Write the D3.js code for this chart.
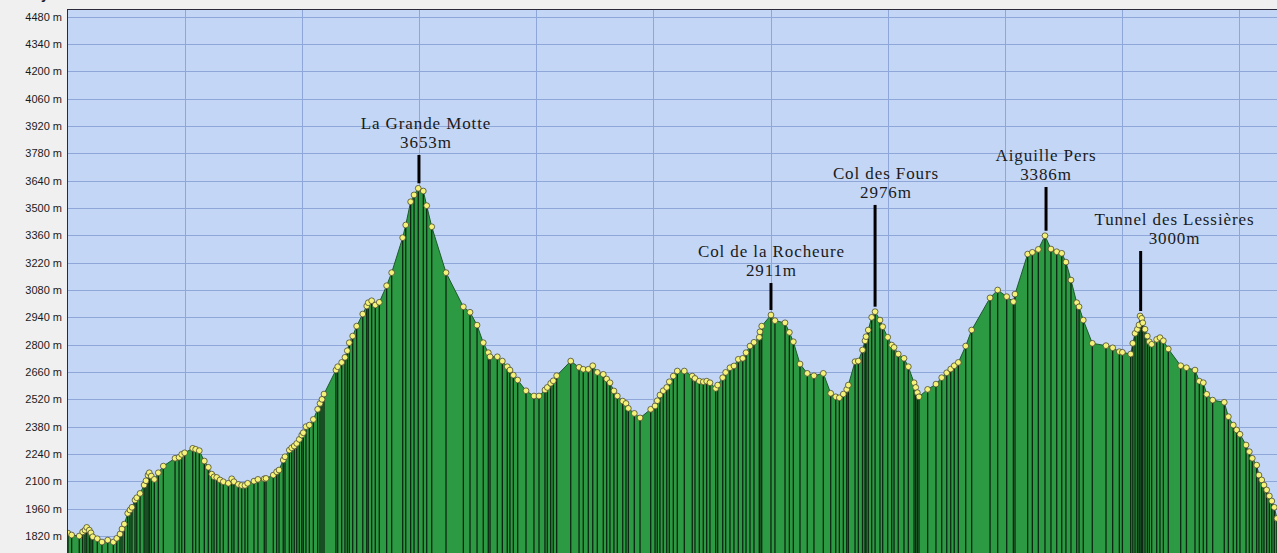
<!DOCTYPE html>
<html>
<head>
<meta charset="utf-8">
<script src="https://cdn.jsdelivr.net/npm/d3@7"></script>
<style>
  html, body { margin: 0; padding: 0; background: #f0f0f0; }
  svg { display: block; }
</style>
</head>
<body>
<div id="chart"></div>
<script>
// distance along the route (km, grid every 1 km) and elevation (m) of each sample
var distKm = [
  0.000, 0.032, 0.097, 0.126, 0.146, 0.161, 0.183, 0.197, 0.212, 0.251,
  0.291, 0.340, 0.388, 0.417, 0.445, 0.462, 0.482, 0.511, 0.530, 0.547,
  0.573, 0.588, 0.616, 0.651, 0.667, 0.684, 0.695, 0.712, 0.738, 0.772,
  0.815, 0.915, 0.949, 0.972, 0.997, 1.066, 1.091, 1.122, 1.165, 1.199,
  1.228, 1.248, 1.271, 1.299, 1.327, 1.370, 1.399, 1.418, 1.455, 1.484,
  1.512, 1.535, 1.589, 1.623, 1.677, 1.692, 1.754, 1.783, 1.803, 1.839,
  1.854, 1.891, 1.911, 1.933, 1.954, 1.976, 1.997, 2.010, 2.033, 2.062,
  2.096, 2.133, 2.153, 2.170, 2.187, 2.289, 2.304, 2.338, 2.366, 2.386,
  2.403, 2.432, 2.466, 2.518, 2.552, 2.565, 2.594, 2.625, 2.659, 2.722,
  2.765, 2.859, 2.885, 2.927, 2.956, 2.992, 3.035, 3.064, 3.107, 3.229,
  3.377, 3.434, 3.494, 3.547, 3.590, 3.605, 3.667, 3.710, 3.752, 3.775,
  3.804, 3.841, 3.912, 3.980, 4.023, 4.074, 4.094, 4.123, 4.145, 4.174,
  4.294, 4.365, 4.401, 4.444, 4.482, 4.521, 4.572, 4.601, 4.629, 4.663,
  4.692, 4.738, 4.766, 4.786, 4.837, 4.886, 4.977, 5.014, 5.033, 5.056,
  5.084, 5.114, 5.136, 5.170, 5.204, 5.264, 5.332, 5.355, 5.392, 5.426,
  5.455, 5.483, 5.532, 5.549, 5.592, 5.617, 5.654, 5.688, 5.725, 5.763,
  5.791, 5.825, 5.859, 5.904, 5.910, 5.925, 6.004, 6.038, 6.124, 6.161,
  6.195, 6.252, 6.314, 6.371, 6.451, 6.514, 6.557, 6.588, 6.622, 6.651,
  6.665, 6.722, 6.750, 6.786, 6.807, 6.816, 6.835, 6.864, 6.893, 6.935,
  6.958, 7.001, 7.035, 7.055, 7.091, 7.140, 7.177, 7.226, 7.240, 7.254,
  7.268, 7.342, 7.413, 7.462, 7.505, 7.539, 7.569, 7.604, 7.667, 7.718,
  7.875, 7.940, 8.017, 8.074, 8.088, 8.196, 8.236, 8.287, 8.344, 8.395,
  8.444, 8.487, 8.523, 8.566, 8.615, 8.635, 8.671, 8.748, 8.865, 8.922,
  8.979, 9.005, 9.076, 9.094, 9.113, 9.133, 9.147, 9.156, 9.170, 9.179,
  9.198, 9.218, 9.235, 9.255, 9.298, 9.326, 9.355, 9.397, 9.503, 9.552,
  9.625, 9.662, 9.696, 9.725, 9.776, 9.875, 9.910, 9.952, 9.981, 10.009,
  10.061, 10.089, 10.114, 10.152, 10.171, 10.195, 10.214, 10.237, 10.260, 10.281,
  10.302, 10.325, 10.360
];
var elevM = [
  1835, 1825, 1820, 1841, 1850, 1864, 1850, 1836, 1816, 1806,
  1789, 1799, 1789, 1808, 1830, 1856, 1881, 1936, 1953, 1967,
  2004, 2016, 2038, 2081, 2103, 2132, 2144, 2127, 2110, 2144,
  2178, 2218, 2223, 2238, 2246, 2269, 2264, 2257, 2204, 2172,
  2137, 2123, 2120, 2107, 2098, 2090, 2113, 2098, 2084, 2079,
  2079, 2090, 2101, 2110, 2113, 2115, 2132, 2149, 2158, 2209,
  2226, 2260, 2272, 2281, 2294, 2315, 2337, 2349, 2380, 2388,
  2417, 2469, 2499, 2520, 2547, 2670, 2687, 2709, 2735, 2769,
  2810, 2844, 2895, 2957, 2998, 3015, 3025, 3003, 3017, 3102,
  3169, 3348, 3413, 3532, 3567, 3601, 3587, 3512, 3404, 3169,
  2994, 2966, 2900, 2810, 2759, 2738, 2738, 2716, 2687, 2670,
  2644, 2619, 2564, 2537, 2537, 2568, 2581, 2602, 2615, 2641,
  2716, 2684, 2674, 2674, 2692, 2658, 2648, 2624, 2605, 2563,
  2537, 2511, 2499, 2474, 2448, 2425, 2469, 2486, 2513, 2542,
  2564, 2581, 2610, 2639, 2665, 2665, 2639, 2627, 2613, 2610,
  2613, 2605, 2576, 2593, 2631, 2658, 2682, 2691, 2725, 2730,
  2759, 2793, 2812, 2838, 2866, 2895, 2952, 2923, 2912, 2863,
  2815, 2701, 2653, 2641, 2653, 2551, 2533, 2528, 2547, 2571,
  2593, 2713, 2716, 2773, 2820, 2841, 2875, 2940, 2969, 2926,
  2892, 2838, 2798, 2786, 2752, 2730, 2687, 2605, 2581, 2554,
  2533, 2571, 2598, 2631, 2656, 2675, 2692, 2709, 2793, 2875,
  3040, 3080, 3046, 3020, 3059, 3264, 3273, 3288, 3358, 3290,
  3276, 3268, 3223, 3131, 3015, 2994, 2926, 2807, 2795, 2784,
  2764, 2761, 2752, 2807, 2858, 2879, 2901, 2947, 2935, 2912,
  2879, 2844, 2815, 2802, 2827, 2836, 2820, 2778, 2692, 2682,
  2670, 2613, 2605, 2546, 2516, 2505, 2431, 2388, 2363, 2341,
  2286, 2252, 2218, 2183, 2132, 2107, 2081, 2056, 2025, 1999,
  1967, 1910, 1870
];

// y-axis tick values
var elevTicks = [1820, 1960, 2100, 2240, 2380, 2520, 2660, 2800, 2940, 3080,
                 3220, 3360, 3500, 3640, 3780, 3920, 4060, 4200, 4340, 4480];
var distTicks = [1, 2, 3, 4, 5, 6, 7, 8, 9, 10];

// summit annotations
var peakNames  = ["La Grande Motte", "Col de la Rocheure", "Col des Fours", "Aiguille Pers", "Tunnel des Lessières"];
var peakLabels = ["3653m", "2911m", "2976m", "3386m", "3000m"];
var peakDist   = [2.998, 6.004, 6.893, 8.353, 9.161];
var labelDist  = [3.058, 6.008, 6.986, 8.353, 9.450];
var labelElev  = [3905, 3249, 3649, 3741, 3413];

var width = 1277, height = 553;
var plot = { left: 67, top: 9, right: 1277, bottom: 553 };

var x = d3.scaleLinear().domain([0, 1]).range([67.9, 67.9 + 117.1]);
var y = d3.scaleLinear().domain([1820, 4480]).range([536, 16.7]);

var data = distKm.map(function(d, i) { return { d: d, e: elevM[i] }; });

var svg = d3.select("#chart").append("svg")
    .attr("width", width)
    .attr("height", height);

svg.append("rect")
    .attr("width", width).attr("height", height)
    .attr("fill", "#f0f0f0");

svg.append("defs").append("clipPath").attr("id", "plotClip")
  .append("rect")
    .attr("x", plot.left).attr("y", plot.top)
    .attr("width", plot.right - plot.left).attr("height", plot.bottom - plot.top);

// title, cut off at the top edge as in the source image
svg.append("text")
    .attr("x", 41).attr("y", -1)
    .style("font-family", "Liberation Sans, Arial, sans-serif")
    .style("font-size", "14px")
    .style("font-weight", "bold")
    .attr("fill", "#222")
    .text("y");

var g = svg.append("g").attr("clip-path", "url(#plotClip)");

g.append("rect")
    .attr("x", plot.left).attr("y", plot.top)
    .attr("width", plot.right - plot.left).attr("height", plot.bottom - plot.top)
    .attr("fill", "#c3d6f6");

// grid
g.selectAll("hgrid")
    .data(elevTicks)
    .enter().append("line")
    .attr("x1", plot.left).attr("x2", plot.right)
    .attr("y1", function(d) { return Math.round(y(d)) + 0.5; })
    .attr("y2", function(d) { return Math.round(y(d)) + 0.5; })
    .attr("stroke", "#8ea7d8").attr("stroke-width", 1);

g.selectAll("vgrid")
    .data(distTicks)
    .enter().append("line")
    .attr("x1", function(d) { return Math.round(x(d)) + 0.5; })
    .attr("x2", function(d) { return Math.round(x(d)) + 0.5; })
    .attr("y1", plot.top).attr("y2", plot.bottom)
    .attr("stroke", "#8ea7d8").attr("stroke-width", 1);

// profile
var area = d3.area()
    .x(function(d) { return x(d.d); })
    .y0(plot.bottom + 5)
    .y1(function(d) { return y(d.e); });

g.append("path")
    .datum(data)
    .attr("d", area)
    .attr("fill", "#2c9a42")
    .attr("stroke", "#1e5a2a")
    .attr("stroke-width", 1);

g.selectAll("stem")
    .data(data)
    .enter().append("line")
    .attr("x1", function(d) { return x(d.d); })
    .attr("x2", function(d) { return x(d.d); })
    .attr("y1", function(d) { return y(d.e); })
    .attr("y2", plot.bottom)
    .attr("stroke", "#0a1a0c")
    .attr("stroke-opacity", 0.9)
    .attr("stroke-width", 1.3);

g.selectAll("dot")
    .data(data)
    .enter().append("circle")
    .attr("cx", function(d) { return x(d.d); })
    .attr("cy", function(d) { return y(d.e); })
    .attr("r", 2.9)
    .attr("fill", "#f5f27a")
    .attr("stroke", "#4a4a30")
    .attr("stroke-width", 0.8);

// summit annotations
var nearestElev = function(dist) {
    var best = data[0];
    data.forEach(function(p) {
        if (Math.abs(p.d - dist) < Math.abs(best.d - dist)) { best = p; }
    });
    return best.e;
};

var peaks = peakNames.map(function(name, i) {
    return { name: name, label: peakLabels[i], d: peakDist[i], ld: labelDist[i], le: labelElev[i] };
});

var ann = g.selectAll("peak")
    .data(peaks)
    .enter().append("g");

ann.append("line")
    .attr("x1", function(d) { return x(d.d); })
    .attr("x2", function(d) { return x(d.d); })
    .attr("y1", function(d) { return y(d.le) + 26; })
    .attr("y2", function(d) { return y(nearestElev(d.d)) - 5; })
    .attr("stroke", "#000")
    .attr("stroke-width", 3);

ann.append("text")
    .attr("x", function(d) { return x(d.ld); })
    .attr("y", function(d) { return y(d.le); })
    .attr("text-anchor", "middle")
    .style("font-family", "Liberation Serif, Times New Roman, serif")
    .style("font-size", "17px")
    .style("letter-spacing", "0.9px")
    .attr("fill", "#1a1a1a")
    .text(function(d) { return d.name; });

ann.append("text")
    .attr("x", function(d) { return x(d.ld); })
    .attr("y", function(d) { return y(d.le) + 19; })
    .attr("text-anchor", "middle")
    .style("font-family", "Liberation Serif, Times New Roman, serif")
    .style("font-size", "17px")
    .style("letter-spacing", "0.9px")
    .attr("fill", "#1a1a1a")
    .text(function(d) { return d.label; });

// y axis labels
var yAxis = d3.axisLeft(y)
    .tickValues(elevTicks)
    .tickSize(0)
    .tickPadding(5)
    .tickFormat(function(d) { return d + " m"; });

var axisG = svg.append("g")
    .attr("transform", "translate(" + plot.left + ",0)")
    .call(yAxis);
axisG.select(".domain").remove();
axisG.selectAll("text")
    .style("font-family", "Liberation Sans, Arial, sans-serif")
    .style("font-size", "11px")
    .attr("fill", "#1a1a1a");

// plot border (left and top)
svg.append("line")
    .attr("x1", plot.left + 0.5).attr("x2", plot.left + 0.5)
    .attr("y1", plot.top).attr("y2", plot.bottom)
    .attr("stroke", "#2a2a3a").attr("stroke-width", 1);
svg.append("line")
    .attr("x1", plot.left).attr("x2", plot.right)
    .attr("y1", plot.top + 0.5).attr("y2", plot.top + 0.5)
    .attr("stroke", "#2a2a3a").attr("stroke-width", 1);
</script>
</body>
</html>
